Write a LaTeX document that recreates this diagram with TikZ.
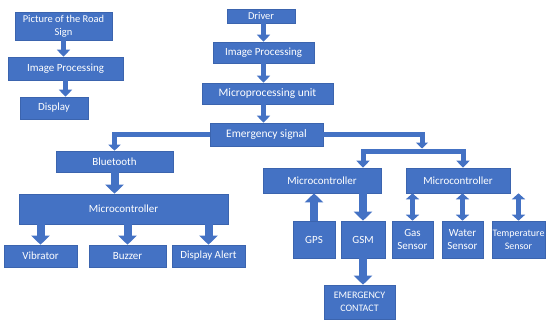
\documentclass[tikz,border=0pt]{standalone}
\usepackage{fontspec}
\setmainfont{Carlito}
\usetikzlibrary{arrows.meta}
\definecolor{myblue}{HTML}{4472C4}
\definecolor{myedge}{HTML}{3B64AE}
\tikzset{
  box/.style={rectangle, fill=myblue, draw=myedge, line width=0.6bp, text=white,
    font=\fontsize{11}{13}\selectfont, inner sep=0pt, align=center},
  arrS/.style={draw=myblue, line width=5bp, -{Triangle[width=13bp,length=7bp]}},
  arrB/.style={draw=myblue, line width=8bp, -{Triangle[width=18bp,length=9bp]}},
  arrD/.style={draw=myblue, line width=5bp, {Triangle[width=13bp,length=6bp]}-{Triangle[width=13bp,length=6bp]}},
  conn/.style={draw=myblue, line width=5bp, line join=miter, -{Triangle[width=12bp,length=6bp]}},
  brk/.style={draw=myblue, line width=5bp, line join=miter, {Triangle[width=13bp,length=7bp]}-{Triangle[width=13bp,length=7bp]}},
}
\begin{document}
\begin{tikzpicture}[x=1bp,y=-1bp]
\useasboundingbox (0,0) rectangle (556,323);
% left column
\node[box, minimum width=97bp, minimum height=28bp, font=\fontsize{10.5}{13}\selectfont] (pic) at (63.5,26) {Picture of the Road\\Sign};
\node[box, minimum width=115bp, minimum height=23bp] (ip1) at (65.5,68.5) {Image Processing};
\node[box, minimum width=68bp, minimum height=22bp] (disp) at (54,108) {Display};
% center column
\node[box, minimum width=68bp, minimum height=14bp, font=\fontsize{10.5}{12}\selectfont] (drv) at (261,16) {Driver};
\node[box, minimum width=101bp, minimum height=21bp] (ip2) at (263.5,52.5) {Image Processing};
\node[box, minimum width=131bp, minimum height=21bp, font=\fontsize{11.5}{13}\selectfont] (mpu) at (267.5,93.5) {Microprocessing unit};
\node[box, minimum width=113bp, minimum height=23bp, font=\fontsize{11.5}{13}\selectfont] (es) at (266.5,134.5) {Emergency signal};
% left branch
\node[box, minimum width=117bp, minimum height=21bp] (bt) at (114.5,161.5) {Bluetooth};
\node[box, minimum width=209bp, minimum height=30bp] (mcL) at (123.5,209) {Microcontroller};
\node[box, minimum width=73bp, minimum height=22bp] (vib) at (40.5,256) {Vibrator};
\node[box, minimum width=77bp, minimum height=22bp] (buz) at (127.5,256) {Buzzer};
\node[box, minimum width=73bp, minimum height=22bp] (dal) at (208.5,256) {Display Alert};
% right branch
\node[box, minimum width=118bp, minimum height=25bp] (mc1) at (322,180.5) {Microcontroller};
\node[box, minimum width=104bp, minimum height=25bp] (mc2) at (458,180.5) {Microcontroller};
\node[box, minimum width=42bp, minimum height=37bp] (gps) at (314,239.5) {GPS};
\node[box, minimum width=44bp, minimum height=37bp] (gsm) at (363,239.5) {GSM};
\node[box, minimum width=41bp, minimum height=37bp] (gas) at (412.5,239.5) {Gas\\Sensor};
\node[box, minimum width=41bp, minimum height=37bp] (wat) at (462.5,239.5) {Water\\Sensor};
\node[box, minimum width=53bp, minimum height=37bp, font=\fontsize{10}{13}\selectfont] (tmp) at (518.5,239.5) {Temperature\\Sensor};
\node[box, minimum width=71bp, minimum height=34bp, font=\fontsize{10}{13}\selectfont] (ec) at (359.5,302) {EMERGENCY\\CONTACT};
% coordinates for bracket
\coordinate (bT) at (422,148.5);
\coordinate (bL) at (363,151);
\coordinate (bR) at (463,151);
% arrows
\draw[arrS] (pic.south) -- (pic.south |- ip1.north);
\draw[arrS] (ip1.south) -- (ip1.south |- disp.north);
\draw[arrS] (drv.south -| ip2.north) -- (ip2.north);
\draw[arrS] (ip2.south) -- (ip2.south |- mpu.north);
\draw[arrS] (ip2.south |- mpu.south) -- (ip2.south |- es.north);
\draw[conn] (es.west) -| (bt.north);
\draw[conn] (es.east) -| (bT);
\draw[brk] (bL |- mc1.north) -- (bL) -- (bR) -- (bR |- mc2.north);
\draw[arrB] (bt.south) -- (bt.south |- mcL.north);
\draw[arrB] (vib.north |- mcL.south) -- (vib.north);
\draw[arrB] (buz.north |- mcL.south) -- (buz.north);
\draw[arrB] (dal.north |- mcL.south) -- (dal.north);
\draw[arrB] (gps.north) -- (gps.north |- mc1.south);
\draw[arrB] (gsm.north |- mc1.south) -- (gsm.north);
\draw[arrB] (gsm.south) -- (gsm.south |- ec.north);
\draw[arrD] (gas.north |- mc2.south) -- (gas.north);
\draw[arrD] (wat.north |- mc2.south) -- (wat.north);
\draw[arrD] (tmp.north |- mc2.south) -- (tmp.north);
\end{tikzpicture}
\end{document}
